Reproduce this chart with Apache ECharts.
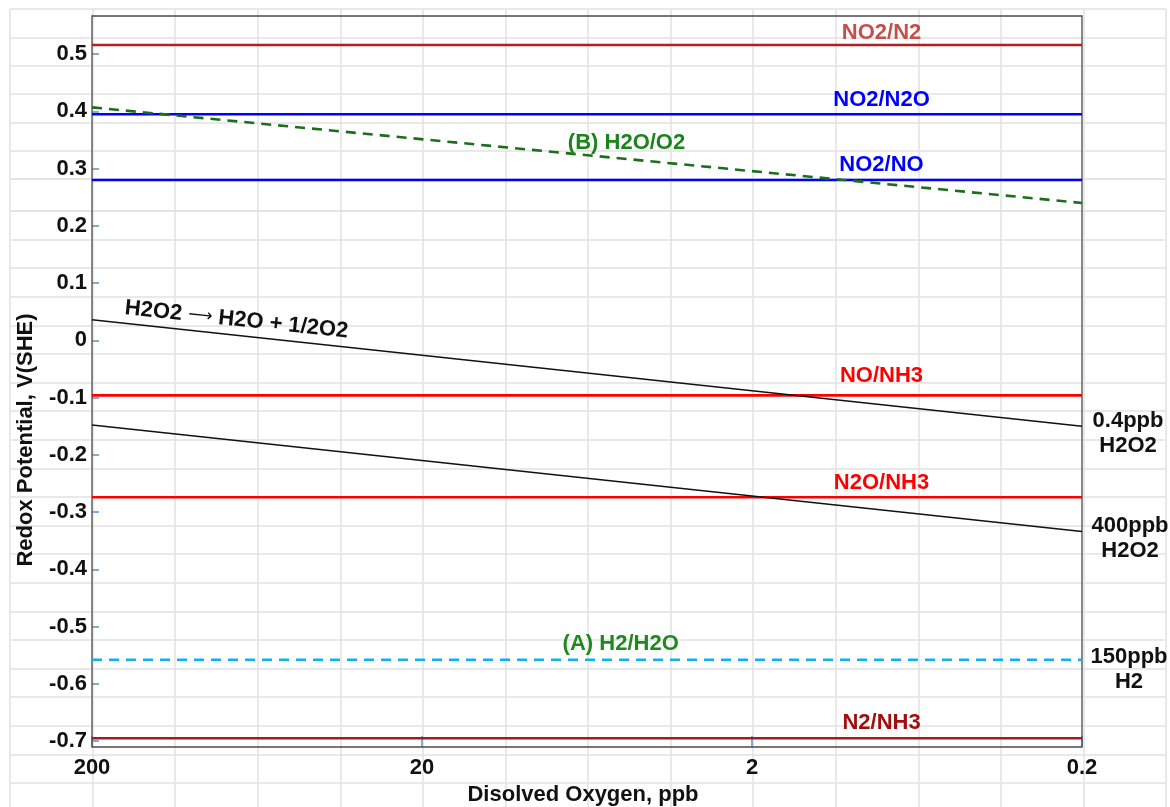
<!DOCTYPE html>
<html>
<head>
<meta charset="utf-8">
<script src="https://cdn.jsdelivr.net/npm/echarts@6/dist/echarts.min.js"></script>
<style>
  html, body { margin: 0; padding: 0; background: #ffffff; }
  #chart { width: 1170px; height: 807px; }
</style>
</head>
<body>
<div id="chart"></div>
<script>
// Dissolved-oxygen axis (ppb), logarithmic, running from 200 down to 0.2
const xTickValues = [200, 20, 2, 0.2];
const xTickLabels = ['200', '20', '2', '0.2'];
// Redox potential axis, V(SHE)
const yTickValues = [0.5, 0.4, 0.3, 0.2, 0.1, 0, -0.1, -0.2, -0.3, -0.4, -0.5, -0.6, -0.7];
const yTickLabels = ['0.5', '0.4', '0.3', '0.2', '0.1', '0', '-0.1', '-0.2', '-0.3', '-0.4', '-0.5', '-0.6', '-0.7'];

// ppb at the two ends of every line
const oxygenSpan = [200, 0.2];

// nitrogen couples: potentials independent of dissolved oxygen
const coupleNames = ['NO2/N2', 'NO2/N2O', 'NO2/NO', 'NO/NH3', 'N2O/NH3', 'N2/NH3'];
const couplePotentials = [0.516, 0.395, 0.280, -0.096, -0.274, -0.695];

// (A) hydrogen electrode, 150 ppb H2
const h2Potential = [-0.558, -0.558];
// (B) oxygen electrode
const o2Potential = [0.407, 0.240];
// H2O2 -> H2O + 1/2 O2 at 0.4 ppb and 400 ppb H2O2
const h2o2LowPotential = [0.036, -0.150];
const h2o2HighPotential = [-0.148, -0.334];

const FONT = "'Liberation Sans', Arial, Helvetica, sans-serif";
const lg = Math.log10;
const xMin = lg(0.2), xMax = lg(200);

const couplePalette = [
  { line: '#b31f1f', text: '#c4504c', dy: -12 },
  { line: '#0000ff', text: '#0000ff', dy: -14 },
  { line: '#0000ff', text: '#0000ff', dy: -15 },
  { line: '#ff0000', text: '#ff0000', dy: -19 },
  { line: '#ff0000', text: '#ff0000', dy: -14 },
  { line: '#a51b1b', text: '#a20e0e', dy: -15 }
];

function span(values) {
  return oxygenSpan.map((ppb, i) => [lg(ppb), values[i]]);
}

function lineSeries(name, values, color, width, dashed) {
  return {
    name: name, type: 'line', xAxisIndex: 0, yAxisIndex: 0,
    data: span(values), symbol: 'none', silent: true, z: 3,
    lineStyle: { color: color, width: width, opacity: 1, type: dashed ? [10, 7] : 'solid' }
  };
}

const series = [];

couplePotentials.forEach((v, i) => {
  series.push(lineSeries(coupleNames[i], [v, v], couplePalette[i].line, 2.6, false));
});
series.push(lineSeries('(B) H2O/O2', o2Potential, '#1c6e1c', 2.6, true));
series.push(lineSeries('(A) H2/H2O', h2Potential, '#15aff0', 2.6, true));
series.push(lineSeries('0.4ppb H2O2', h2o2LowPotential, '#111111', 1.5, false));
series.push(lineSeries('400ppb H2O2', h2o2HighPotential, '#111111', 1.5, false));

// text annotations, anchored in data coordinates
function note(text, ppb, v, color, offset, extra) {
  return {
    value: [lg(ppb), v],
    label: Object.assign({
      show: true, formatter: text, position: 'inside', offset: offset,
      color: color, opacity: 1, fontFamily: FONT, fontWeight: 'bold', fontSize: 22,
      align: 'center', verticalAlign: 'middle', lineHeight: 25
    }, extra || {})
  };
}

const notes = [];
coupleNames.forEach((n, i) => {
  notes.push(note(n, 0.81, couplePotentials[i], couplePalette[i].text, [0, couplePalette[i].dy]));
});
notes.push(note('(A) H2/H2O', 5, h2Potential[0], '#1e8a1e', [0, -16]));
notes.push(note('(B) H2O/O2', 4.8, 0.345, '#1c841c', [0, 0]));
notes.push(note('{t|H2O2 }{a|\u27F6}{t| H2O + 1/2O2}', 73, 0.036, '#111111', [0, 0], {
  rotate: -6,
  rich: {
    t: { fontFamily: FONT, fontWeight: 'bold', fontSize: 22, color: '#111111' },
    a: { fontFamily: "'DejaVu Sans', sans-serif", fontWeight: 'normal', fontSize: 17, color: '#111111' }
  }
}));
notes.push(note('0.4ppb\nH2O2', 0.2, h2o2LowPotential[1], '#111111', [46, 7]));
notes.push(note('400ppb\nH2O2', 0.2, h2o2HighPotential[1], '#111111', [48, 7]));
notes.push(note('150ppb\nH2', 0.2, h2Potential[1], '#111111', [47, 10]));

series.push({
  type: 'scatter', xAxisIndex: 0, yAxisIndex: 0, symbolSize: 0,
  itemStyle: { opacity: 1 },
  clip: false, silent: true, z: 5, data: notes
});

// worksheet cell lines behind the plot
const sheetLine = { show: true, lineStyle: { color: '#e2e2e2', width: 1.5 } };
function sheetAxis(max, gridIndex) {
  return {
    type: 'value', gridIndex: gridIndex, min: 0, max: max, interval: 1,
    axisLine: { show: false, onZero: false }, axisTick: { show: false }, axisLabel: { show: false },
    splitLine: sheetLine
  };
}

const option = {
  backgroundColor: '#ffffff',
  animation: false,
  grid: [
    { left: 92, top: 16, width: 990, height: 731, show: true, borderColor: '#4a4a4a', borderWidth: 1.3,
      backgroundColor: 'transparent', containLabel: false, outerBoundsMode: 'none', z: 2 },
    { left: 10, top: 9, width: 1156, height: 170, outerBoundsMode: 'none', z: 0 },
    { left: 10, top: 179, width: 1156, height: 32, outerBoundsMode: 'none', z: 0 },
    { left: 10, top: 211, width: 1156, height: 600.6, outerBoundsMode: 'none', z: 0 }
  ],
  xAxis: [
    {
      type: 'value', gridIndex: 0, min: xMin, max: xMax, inverse: true, position: 'bottom',
      name: 'Disolved Oxygen, ppb', nameLocation: 'middle', nameGap: 33,
      nameTextStyle: { fontFamily: FONT, fontWeight: 'bold', fontSize: 22, color: '#111111', padding: [0, 8, 0, 0] },
      axisLine: { show: false, onZero: false },
      splitLine: { show: false },
      axisTick: { show: true, inside: true, length: 11, customValues: xTickValues.map(lg), lineStyle: { color: '#5b8fd4', width: 1.5 } },
      axisLabel: {
        show: true, margin: 10, customValues: xTickValues.map(lg),
        fontFamily: FONT, fontWeight: 'bold', fontSize: 22, color: '#111111',
        formatter: function (v) {
          const i = xTickValues.findIndex(t => Math.abs(lg(t) - v) < 1e-6);
          return i >= 0 ? xTickLabels[i] : '';
        }
      }
    },
    sheetAxis(14, 1), sheetAxis(14, 2), sheetAxis(14, 3)
  ],
  yAxis: [
    {
      type: 'value', gridIndex: 0, min: -0.7103, max: 0.5666, position: 'left',
      name: 'Redox Potential, V(SHE)', nameLocation: 'middle', nameGap: 55,
      nameTextStyle: { fontFamily: FONT, fontWeight: 'bold', fontSize: 22, color: '#111111', padding: [0, 117, 0, 0] },
      axisLine: { show: false, onZero: false },
      splitLine: { show: false },
      axisTick: { show: true, inside: true, length: 7, customValues: yTickValues, lineStyle: { color: '#5b8fd4', width: 1.5 } },
      axisLabel: {
        show: true, margin: 5, customValues: yTickValues,
        fontFamily: FONT, fontWeight: 'bold', fontSize: 22, color: '#111111',
        formatter: function (v) {
          const i = yTickValues.findIndex(t => Math.abs(t - v) < 1e-6);
          return i >= 0 ? yTickLabels[i] : '';
        }
      }
    },
    sheetAxis(6, 1), sheetAxis(1, 2), sheetAxis(21, 3)
  ],
  series: series
};

const chart = echarts.init(document.getElementById('chart'), null, { renderer: 'canvas' });
chart.setOption(option);
</script>
</body>
</html>
